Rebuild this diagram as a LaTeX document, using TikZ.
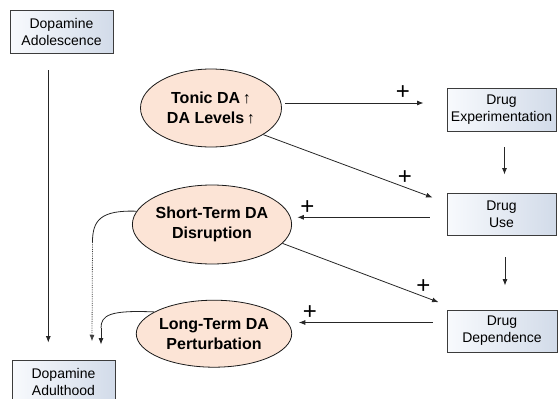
\documentclass[tikz,border=0pt]{standalone}
\usepackage[no-math]{fontspec}
\setmainfont{Liberation Sans}
\usetikzlibrary{arrows.meta,shapes.geometric}
\definecolor{boxL}{RGB}{248,250,253}
\definecolor{boxR}{RGB}{210,219,233}
\definecolor{peach}{RGB}{252,228,214}
\definecolor{edge}{RGB}{60,60,60}
\tikzset{
  stagebox/.style={draw=edge, line width=0.9pt, left color=boxL, right color=boxR,
    inner sep=0pt, align=center, text=black,
    font=\fontsize{14}{17}\selectfont},
  daoval/.style={ellipse, draw=black!90, line width=0.8pt, fill=peach, inner sep=0pt,
    align=center, font=\bfseries\fontsize{16}{20}\selectfont},
  link/.style={draw=black!85, line width=0.8pt, -{Latex[length=6.5pt,width=5pt]}},
  plainlink/.style={draw=black!85, line width=0.8pt},
  plus/.style={font=\fontsize{24}{24}\selectfont, inner sep=0pt},
}
\begin{document}
\begin{tikzpicture}[x=1pt,y=-1pt]
\useasboundingbox (0,0) rectangle (558,399);

% developmental stages
\node[stagebox, minimum width=103pt, minimum height=43pt] (adol)  at (61.5,31.5)  {Dopamine\\Adolescence};
\node[stagebox, minimum width=103pt, minimum height=43pt] (adult) at (63.5,381.5) {Dopamine\\Adulthood};

% drug stages
\node[stagebox, minimum width=109pt, minimum height=43pt] (exp) at (501.5,109.5) {Drug\\Experimentation};
\node[stagebox, minimum width=109pt, minimum height=42pt] (use) at (501.5,214)   {Drug\\Use};
\node[stagebox, minimum width=110pt, minimum height=42pt] (dep) at (502,331)     {Drug\\Dependence};

% dopamine states
\node[daoval, minimum width=141pt, minimum height=78pt] (tonic) at (211,108)   {Tonic DA\,↑\\DA Levels\,↑};
\node[daoval, minimum width=140pt, minimum height=79pt] (short) at (212,224.5) {Short-Term DA\\Disruption};
\node[daoval, minimum width=142pt, minimum height=67pt] (long)  at (214,333.7) {Long-Term DA\\Perturbation};

% adolescence to adulthood
\draw[link] ([xshift=-13.2pt,yshift=-17pt]adol.south) -- ([xshift=-15.2pt,yshift=17pt]adult.north);

% drug progression
\draw[link] ([xshift=3pt,yshift=-16pt]exp.south) -- ([xshift=3pt,yshift=18pt]use.north);
\draw[link] ([xshift=3.5pt,yshift=-22pt]use.south) -- ([xshift=3pt,yshift=24pt]dep.north);

% dopamine effects on drug stages
\draw[link] ([xshift=3.5pt,yshift=5pt]tonic.east) -- ([xshift=-23pt,yshift=6.5pt]exp.west)
  node[plus] (p1) at (403,93) {+};
\draw[link] (tonic.-27) -- ([xshift=-14pt,yshift=16.5pt]use.west)
  node[plus] (p2) at (405,177.3) {+};
\draw[link] ([xshift=-17pt,yshift=-3.3pt]use.west) -- ([xshift=5.3pt,yshift=7.2pt]short.east)
  node[plus] (p3) at (307.3,207.3) {+};
\draw[link] (short.-15) -- ([xshift=-8pt,yshift=28.8pt]dep.west)
  node[plus] (p4) at (423.3,286.7) {+};
\draw[link] ([xshift=-14pt,yshift=8.5pt]dep.west) -- ([xshift=6.7pt,yshift=11.2pt]long.east)
  node[plus] (p5) at (310,312.7) {+};

% dopamine states feeding into adulthood
\coordinate (sbend) at (92.5,242);
\draw[plainlink] (short.170) .. controls (101,210) and (92.5,220) .. (sbend);
\draw[link, densely dotted, draw=black!75] (sbend) -- ([xshift=28.5pt,yshift=18.3pt]adult.north);
\coordinate (lbend) at (101,328);
\draw[plainlink] (long.160) .. controls (110,310) and (101,315) .. (lbend);
\draw[link] (lbend) -- ([xshift=37.5pt,yshift=15pt]adult.north);
\end{tikzpicture}
\end{document}
